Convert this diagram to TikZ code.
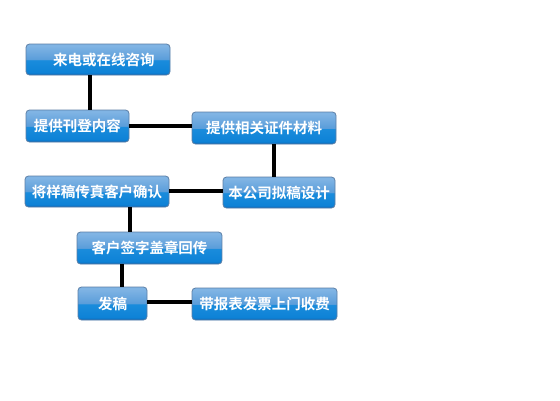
\documentclass[tikz,border=0pt]{standalone}
\usepackage{fontspec}
\newfontfamily\cjk{Noto Sans CJK SC}[BoldFont={Noto Sans CJK SC Bold}]
\definecolor{bdark}{HTML}{0A64B4}
\definecolor{bmid}{HTML}{0E82D6}
\definecolor{blow}{HTML}{1A8CDC}
\definecolor{blight}{HTML}{5A9DDA}
\definecolor{btop}{HTML}{80B4E4}
\definecolor{bborder}{HTML}{5C7FA6}
\pgfdeclareverticalshading{btnshade}{100bp}{color(0bp)=(bdark); color(25bp)=(bdark); color(29bp)=(bmid); color(49bp)=(blow); color(50bp)=(blight); color(72bp)=(btop); color(75bp)=(btop); color(100bp)=(btop)}
\tikzset{
  btn/.style={draw=bborder, line width=0.8pt, rounded corners=3.5pt, shading=btnshade,
    font=\cjk\bfseries\fontsize{14.5}{16}\selectfont, text=white, inner sep=0pt, anchor=center},
  link/.style={line width=4pt, black}
}
\begin{document}
\begin{tikzpicture}[x=1pt,y=-1pt]
\useasboundingbox[fill=white] (0,0) rectangle (560,400);
\node[btn, minimum width=144pt, minimum height=31pt] (b1) at (98,59.5) {\hspace{12pt}来电或在线咨询};
\node[btn, minimum width=103pt, minimum height=32pt] (b2) at (77.5,126) {提供刊登内容};
\node[btn, minimum width=144pt, minimum height=32pt] (b3) at (264,128) {提供相关证件材料};
\node[btn, minimum width=112pt, minimum height=31pt] (b4) at (279,192.5) {本公司拟稿设计};
\node[btn, minimum width=144pt, minimum height=31pt] (b5) at (97,191.5) {将样稿传真客户确认};
\node[btn, minimum width=145pt, minimum height=32pt] (b6) at (149.5,248) {客户签字盖章回传};
\node[btn, minimum width=69pt, minimum height=33pt] (b7) at (112.5,303.5) {发稿};
\node[btn, minimum width=145pt, minimum height=32pt] (b8) at (264.5,304) {带报表发票上门收费};
\coordinate (v1) at (90,0);
\coordinate (v2) at (274,0);
\coordinate (v3) at (130,0);
\coordinate (v4) at (122,0);
\coordinate (h1) at (0,126);
\coordinate (h2) at (0,191);
\coordinate (h3) at (0,302);
\draw[link] (b1.south -| v1) -- (b2.north -| v1);
\draw[link] (b2.east |- h1) -- (b3.west |- h1);
\draw[link] (b3.south -| v2) -- (b4.north -| v2);
\draw[link] (b5.east |- h2) -- (b4.west |- h2);
\draw[link] (b5.south -| v3) -- (b6.north -| v3);
\draw[link] (b6.south -| v4) -- (b7.north -| v4);
\draw[link] (b7.east |- h3) -- (b8.west |- h3);
\end{tikzpicture}
\end{document}
